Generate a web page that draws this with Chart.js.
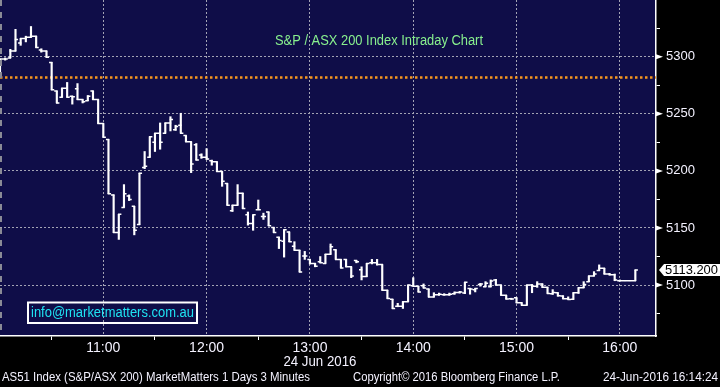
<!DOCTYPE html>
<html>
<head>
<meta charset="utf-8">
<script src="https://cdn.jsdelivr.net/npm/chart.js@4.4.1/dist/chart.umd.min.js"></script>
<style>
	html, body { margin: 0; padding: 0; background: #000; }
	canvas { display: block; }
</style>
</head>
<body>
<canvas id="chart" width="720" height="387"></canvas>
<script>
// 3 minute bars from 10:00, 24 Jun 2016 (AS51)
const barMinutes = 3;

const opens = [
	5282, 5298, 5299, 5305, 5312, 5316, 5317, 5318, 5306, 5305,
	5295, 5270, 5264.5, 5272.5, 5265.5, 5272, 5262.5, 5261.5, 5270, 5262.5,
	5241.5, 5227.5, 5179, 5146, 5168, 5178, 5169, 5153, 5203, 5212,
	5225, 5233, 5233, 5242, 5236, 5240, 5231, 5225.5, 5223, 5214,
	5212, 5209, 5208, 5199.5, 5189, 5165, 5170, 5180.5, 5161.5, 5154,
	5166, 5160, 5164, 5150.5, 5142, 5138.5, 5146.5, 5134, 5130.5, 5125.5,
	5122.5, 5119, 5120.5, 5119, 5127, 5131, 5122.5, 5122.5, 5116, 5121.5,
	5113.5, 5107.5, 5119.5, 5119.5, 5118, 5095.5, 5087.5, 5081.5, 5081.5, 5085.5,
	5099.5, 5099, 5099.5, 5096.5, 5089.5, 5091.5, 5091.5, 5091.5, 5092.5, 5093.5,
	5093, 5097, 5096, 5100.5, 5098.5, 5098.5, 5104.5, 5100, 5091, 5088,
	5088.8, 5084.5, 5082.4, 5100, 5099, 5101, 5098, 5092.5, 5093.3, 5090.5,
	5088, 5087.5, 5093.3, 5097.7, 5103, 5108, 5112.7, 5114.7, 5109.7, 5109,
	5103.8, 5103.8, 5103.8, 5103.8,
];
const highs = [
	5298, 5299, 5306.5, 5324, 5316, 5318, 5326.5, 5318, 5307, 5305,
	5295, 5270, 5272.5, 5277.5, 5265.5, 5276.5, 5262.5, 5266, 5270, 5262.5,
	5241.5, 5227.5, 5179, 5162, 5188, 5179, 5169, 5198, 5217, 5230,
	5233, 5242, 5242, 5247.5, 5240, 5250.5, 5231, 5225.5, 5224, 5215,
	5219.5, 5209.5, 5208, 5199.5, 5189, 5170, 5188, 5180.5, 5164, 5161.5,
	5174.5, 5163, 5164, 5150.5, 5142, 5148.5, 5146.5, 5138, 5130.5, 5129.5,
	5122.5, 5119, 5125, 5127, 5136, 5131, 5122.5, 5122.5, 5116, 5121.5,
	5116, 5119, 5122.5, 5122.5, 5118, 5095.5, 5087.5, 5084, 5085.5, 5100,
	5106.5, 5099, 5101, 5096.5, 5093.3, 5093, 5092.5, 5093, 5094, 5094.5,
	5102.5, 5097, 5097, 5101.5, 5103, 5104.5, 5105, 5100, 5091, 5088.5,
	5088.8, 5084.5, 5100, 5100.5, 5103, 5101, 5098, 5096, 5093.3, 5090.6,
	5089.7, 5093.3, 5097.7, 5103, 5108, 5111.8, 5117.7, 5114.7, 5110.3, 5109.7,
	5104.5, 5103.8, 5103.8, 5113.2,
];
const lows = [
	5282, 5297, 5299, 5305, 5310, 5313, 5317, 5308, 5304, 5299.5,
	5271, 5259.5, 5264.5, 5264.5, 5258.5, 5262.5, 5259.5, 5261.5, 5262.5, 5241.5,
	5229.5, 5180, 5146, 5140, 5168, 5174, 5144, 5153, 5202, 5212,
	5217, 5219, 5233, 5235, 5235.5, 5233, 5225.5, 5198.5, 5209.5, 5211,
	5210, 5205, 5199.5, 5186.5, 5170, 5164.5, 5170, 5167, 5152.5, 5148,
	5166, 5157.5, 5152, 5146, 5132, 5124.5, 5138, 5130.5, 5111.5, 5122.5,
	5118.5, 5116, 5119.5, 5119, 5127, 5122.5, 5115, 5116, 5106.5, 5119.5,
	5104.5, 5107.5, 5118.5, 5117.5, 5095.5, 5088.3, 5079.5, 5081, 5079.5, 5085.5,
	5099, 5094, 5097.5, 5089.5, 5089.5, 5091, 5091, 5091, 5092, 5093,
	5092.5, 5092, 5094, 5099, 5098.5, 5098.5, 5100, 5091, 5087.7, 5087.5,
	5084.5, 5082.4, 5082.4, 5093.3, 5098, 5098, 5092.7, 5091.8, 5090.3, 5088,
	5087.4, 5087.4, 5092.7, 5097.7, 5103, 5108, 5112.7, 5109.7, 5108.8, 5103.8,
	5103.5, 5103.8, 5103.8, 5103.8,
];
const closes = [
	5298, 5298, 5305, 5315, 5316, 5317, 5318, 5308, 5305, 5299.5,
	5271, 5259.5, 5272.5, 5264.5, 5265, 5262.5, 5260.5, 5265.5, 5262.5, 5241.5,
	5229.5, 5180, 5146, 5162, 5180, 5175, 5148, 5198, 5204, 5230,
	5233, 5225, 5242, 5245, 5239, 5233, 5225.5, 5206, 5209.5, 5212,
	5210.5, 5208, 5199.5, 5191, 5170, 5170, 5180.5, 5167, 5154, 5161.5,
	5166, 5160, 5152, 5146, 5139, 5148.5, 5138, 5130.5, 5111.5, 5125.5,
	5119, 5116.5, 5119.5, 5127, 5133.5, 5122.5, 5115, 5116, 5108, 5120.5,
	5107.5, 5119, 5119.5, 5118, 5095.5, 5088.3, 5079.5, 5081.5, 5085.5, 5100,
	5099, 5094, 5097.5, 5089.5, 5091.5, 5092, 5091.5, 5092, 5093.5, 5094,
	5102.5, 5096.5, 5097, 5101, 5101.5, 5103.5, 5100, 5091, 5087.7, 5087.7,
	5084.5, 5082.4, 5100, 5099, 5101, 5098, 5092.7, 5093.5, 5090.6, 5088,
	5087.4, 5093.3, 5097.7, 5100.6, 5108, 5109.7, 5114.7, 5109.7, 5109, 5104.4,
	5103.8, 5103.8, 5103.8, 5113.2,
];

const prevClose = 5281.8;
const hourLabels = ["11:00", "12:00", "13:00", "14:00", "15:00", "16:00"];
const dateLabel = "24 Jun 2016";
const title = "S&P / ASX 200 Index Intraday Chart";
const infoText = "info@marketmatters.com.au";
const footer = [
	"AS51 Index (S&P/ASX 200) MarketMatters 1 Days 3 Minutes",
	"Copyright\u00a9 2016 Bloomberg Finance L.P.",
	"24-Jun-2016 16:14:24",
];

const yMin = 5055.4;
const yMax = 5349.7;
const xMax = 381;

const barTimes = opens.map((_, i) => i * barMinutes);
const lastClose = closes[closes.length - 1];

const FONT = "'Liberation Sans', Arial, sans-serif";
const NAVY = "#0f0d48";
const GRID = "#a3a3b4";

// text squeezed to the width it has in the screenshot
function fitText(ctx, text, x, y, width, size, color, align) {
	ctx.save();
	ctx.font = `${size}px ${FONT}`;
	ctx.textBaseline = "middle";
	ctx.textAlign = "left";
	const w = ctx.measureText(text).width;
	ctx.translate(align === "center" ? x - width / 2 : x, y);
	ctx.scale(width / w, 1);
	ctx.fillStyle = color;
	ctx.fillText(text, 0, 0);
	ctx.restore();
}

const background = {
	id: "background",
	beforeDraw(chart) {
		const { ctx, chartArea: a } = chart;
		ctx.save();
		ctx.fillStyle = "#000";
		ctx.fillRect(0, 0, chart.width, chart.height);
		ctx.fillStyle = NAVY;
		ctx.fillRect(a.left, a.top, a.right - a.left, a.bottom - a.top);
		ctx.restore();
	},
};

const overlay = {
	id: "overlay",
	afterDatasetsDraw(chart) {
		const { ctx, scales: { x, y } } = chart;
		const half = (x.getPixelForValue(barMinutes) - x.getPixelForValue(0)) / 2;
		ctx.save();
		ctx.strokeStyle = "#ffffff";
		ctx.lineWidth = 1.5;
		ctx.beginPath();
		barTimes.forEach((t, i) => {
			const px = x.getPixelForValue(t);
			const yo = y.getPixelForValue(opens[i]);
			const yc = y.getPixelForValue(closes[i]);
			ctx.moveTo(px - half, yo);
			ctx.lineTo(px + 0.75, yo);
			ctx.moveTo(px - 0.75, yc);
			ctx.lineTo(px + half, yc);
		});
		ctx.stroke();

		// session start line on the left edge
		ctx.strokeStyle = "#8a8a96";
		ctx.lineWidth = 2;
		ctx.setLineDash([6, 6]);
		ctx.beginPath();
		ctx.moveTo(x.getPixelForValue(0) + 1, chart.chartArea.top);
		ctx.lineTo(x.getPixelForValue(0) + 1, chart.chartArea.bottom);
		ctx.stroke();
		ctx.restore();
	},
	afterDraw(chart) {
		const { ctx, chartArea: a, scales: { x, y } } = chart;
		ctx.save();

		// arrow marks on the major price ticks
		ctx.fillStyle = "#ffffff";
		y.ticks.forEach((t) => {
			if (t.value % 50 !== 0) return;
			const py = y.getPixelForValue(t.value);
			ctx.beginPath();
			ctx.moveTo(a.right, py - 2.5);
			ctx.lineTo(a.right + 7, py);
			ctx.lineTo(a.right, py + 2.5);
			ctx.closePath();
			ctx.fill();
		});

		// last price tag
		const ly = y.getPixelForValue(lastClose);
		ctx.fillStyle = "#ffffff";
		ctx.beginPath();
		ctx.moveTo(a.right + 3, ly);
		ctx.lineTo(a.right + 8, ly - 6);
		ctx.lineTo(chart.width, ly - 6);
		ctx.lineTo(chart.width, ly + 6);
		ctx.lineTo(a.right + 8, ly + 6);
		ctx.closePath();
		ctx.fill();
		fitText(ctx, lastClose.toFixed(3), a.right + 9, ly + 0.5, 53, 13, "#000000");

		// title
		fitText(ctx, title, 379, 41, 208, 14, "#88f08e", "center");

		// info box
		ctx.strokeStyle = "#ffffff";
		ctx.lineWidth = 2;
		ctx.strokeRect(28, 302.5, 169, 20.5);
		fitText(ctx, infoText, 31, 313, 163, 14, "#1fe3f2");

		// date under the 13:00 tick
		fitText(ctx, dateLabel, x.getPixelForValue(180) + 10, 362, 73, 14, "#f4f2ff", "center");

		// footer line
		fitText(ctx, footer[0], 2, 378, 308, 12, "#f4f2ff");
		fitText(ctx, footer[1], 353, 378, 207, 12, "#f4f2ff");
		fitText(ctx, footer[2], 603, 378, 115, 12, "#f4f2ff");
		ctx.restore();
	},
};

new Chart(document.getElementById("chart"), {
	type: "bar",
	data: {
		datasets: [
			{
				type: "line",
				label: "Previous close",
				data: [
					{ x: 0, y: prevClose },
					{ x: xMax, y: prevClose },
				],
				borderColor: "#f7961e",
				borderWidth: 2.5,
				borderDash: [2.5, 2.5],
				pointRadius: 0,
				order: 2,
			},
			{
				type: "bar",
				label: "AS51",
				data: barTimes.map((t, i) => ({ x: t, y: [lows[i], highs[i]] })),
				backgroundColor: "#ffffff",
				borderWidth: 0,
				barThickness: 1.5,
				order: 1,
			},
		],
	},
	options: {
		responsive: false,
		animation: false,
		devicePixelRatio: 1,
		layout: { padding: 0, autoPadding: false },
		plugins: {
			legend: { display: false },
			tooltip: { enabled: false },
		},
		scales: {
			x: {
				type: "linear",
				min: 0,
				max: xMax,
				offset: false,
				grid: {
					offset: false,
					color: (c) => (c.tick && c.tick.value % 60 === 0 && c.tick.value > 0 ? GRID : "transparent"),
					tickColor: (c) => (c.tick && c.tick.value % 60 === 30 ? "#ffffff" : "transparent"),
					tickLength: 4,
					lineWidth: 1,
				},
				border: { display: true, color: "#ffffff", width: 1.5, dash: [2, 2] },
				ticks: {
					stepSize: 30,
					autoSkip: false,
					maxRotation: 0,
					includeBounds: false,
					color: "#f4f2ff",
					padding: 0,
					font: { family: FONT, size: 14 },
					callback: (v) => (v % 60 === 0 && v > 0 ? hourLabels[v / 60 - 1] : ""),
				},
				afterFit: (s) => {
					s.height = 51;
					s.paddingLeft = 0;
					s.paddingRight = 0;
				},
			},
			y: {
				position: "right",
				min: yMin,
				max: yMax,
				grid: {
					color: (c) => (c.tick && c.tick.value % 50 === 0 ? GRID : "transparent"),
					tickColor: "#ffffff",
					tickLength: 4,
					lineWidth: 1,
				},
				border: { display: true, color: "#ffffff", width: 1.5, dash: [2, 2] },
				ticks: {
					stepSize: 25,
					includeBounds: false,
					autoSkip: false,
					color: "#f4f2ff",
					padding: 6,
					font: { family: FONT, size: 13 },
					callback: (v) => (v % 50 === 0 ? String(v) : ""),
				},
				afterFit: (s) => {
					s.width = 64;
					s.paddingTop = 0;
					s.paddingBottom = 0;
				},
			},
		},
	},
	plugins: [background, overlay],
});
</script>
</body>
</html>
